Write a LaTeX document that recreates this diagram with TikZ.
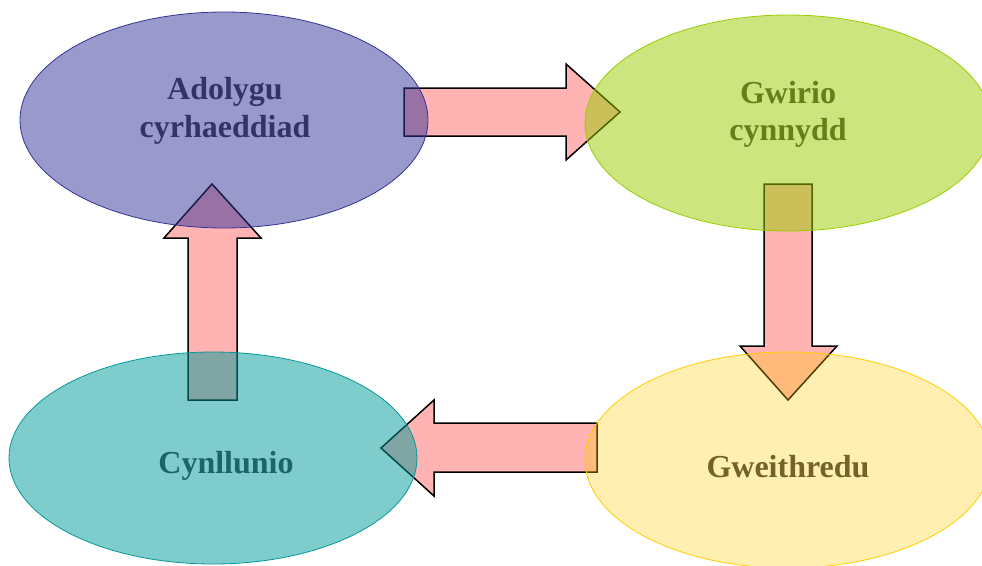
\documentclass[tikz,border=0pt]{standalone}
\usepackage{fontspec}
\setmainfont{Liberation Serif}
\usetikzlibrary{shapes.geometric}
\definecolor{cA}{HTML}{333399}
\definecolor{cB}{HTML}{99CC00}
\definecolor{cC}{HTML}{009999}
\definecolor{cD}{HTML}{FFCC00}
\definecolor{tA}{HTML}{333366}
\definecolor{tB}{HTML}{667F19}
\definecolor{tC}{HTML}{1A6666}
\definecolor{tD}{HTML}{736229}
\definecolor{arrowpink}{HTML}{FFB3B3}
\tikzset{
  blob/.style={ellipse, inner sep=0pt, draw, line width=0.8pt},
  lbl/.style={font=\fontsize{32}{38}\selectfont\bfseries, align=center, anchor=base, inner sep=0pt},
  blockarrow/.style={fill=arrowpink, draw=black, line width=1.5pt, line join=miter},
}
\begin{document}
\begin{tikzpicture}[x=1pt,y=-1pt]
\useasboundingbox (0,0) rectangle (982,565);
% block arrows (under the ellipses)
\draw[blockarrow] (404,88) -- (566,88) -- (566,64) -- (620,112) -- (566,160) -- (566,136) -- (404,136) -- cycle;
\draw[blockarrow] (764,184) -- (812,184) -- (812,346) -- (837,346) -- (788,400) -- (740,346) -- (764,346) -- cycle;
\draw[blockarrow] (597,423) -- (434,423) -- (434,400) -- (381,448) -- (434,496) -- (434,472) -- (597,472) -- cycle;
\draw[blockarrow] (188,400) -- (188,238) -- (164,238) -- (212,184) -- (261,238) -- (237,238) -- (237,400) -- cycle;
% ellipses
\node[blob, draw=cA, fill=cA, fill opacity=0.5, minimum width=408pt, minimum height=216pt] (adolygu) at (224,120) {};
\node[blob, draw=cB, fill=cB, fill opacity=0.5, minimum width=406pt, minimum height=216pt] (gwirio) at (788,123) {};
\node[blob, draw=cC, fill=cC, fill opacity=0.5, minimum width=408pt, minimum height=212pt] (cynllunio) at (213,458) {};
\node[blob, draw=cD, fill=cD, fill opacity=0.3, minimum width=406pt, minimum height=216pt] (gweithredu) at (788,460) {};
% labels
\node[lbl, text=tA] (tadolygu) at (225,99) {Adolygu};
\node[lbl, text=tA] (tadolygu2) at (225,137) {cyrhaeddiad};
\node[lbl, text=tB] (tgwirio) at (788,103) {Gwirio};
\node[lbl, text=tB] (tgwirio2) at (788,140) {cynnydd};
\node[lbl, text=tC] (tcynllunio) at (226,473) {Cynllunio};
\node[lbl, text=tD] (tgweithredu) at (788,477) {Gweithredu};
\end{tikzpicture}
\end{document}
